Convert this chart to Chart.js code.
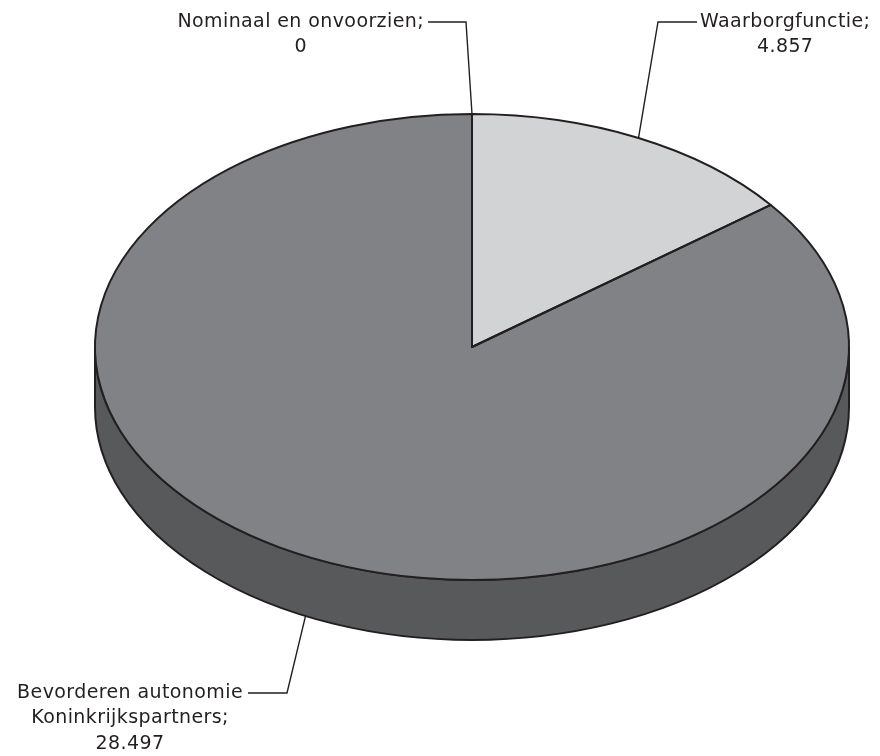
<!DOCTYPE html>
<html lang="nl">
<head>
<meta charset="UTF-8">
<title>Verdeling uitgaven</title>
<script src="https://cdn.jsdelivr.net/npm/chart.js"></script>
<style>
  html, body { margin: 0; padding: 0; background: #ffffff; }
  #wrap { width: 880px; height: 756px; }
</style>
</head>
<body>
<div id="wrap"><canvas id="pie" width="880" height="756"></canvas></div>
<script>
  // data
  const labels = ["Waarborgfunctie", "Bevorderen autonomie Koninkrijkspartners", "Nominaal en onvoorzien"];
  const values = [4.857, 28.497, 0];
  const valueText = ["4.857", "28.497", "0"];

  const topColors = ["#d1d3d4", "#808285", "#808285"];
  const sideColors = ["#a7a9ac", "#58595b", "#58595b"];
  const lineColor = "#231f20";

  // label layout: text lines, where the first line touches the leader line, elbow of leader line
  const labelLayout = [
    { lines: ["Waarborgfunctie;", "4.857"], side: "right", x: 700, y: 22, lineStart: [697, 22], elbow: [658, 22] },
    { lines: ["Bevorderen autonomie", "Koninkrijkspartners;", "28.497"], side: "left", x: 243, y: 693, lineStart: [248, 693], elbow: [287, 693] },
    { lines: ["Nominaal en onvoorzien;", "0"], side: "left", x: 424, y: 22, lineStart: [428, 22], elbow: [466, 22] }
  ];

  const centerY = 347;   // screen y of ellipse centre
  const radiusY = 233;   // vertical half axis
  const depth = 60;      // thickness of the pie

  function geom(chart) {
    const arc = chart.getDatasetMeta(0).data[0];
    return { cx: arc.x, cy: arc.y, rx: arc.outerRadius, ry: radiusY };
  }

  const pie3d = {
    id: "pie3d",
    beforeDatasetsDraw(chart) {
      const ctx = chart.ctx;
      const g = geom(chart);
      const arcs = chart.getDatasetMeta(0).data;
      // side walls (front half only)
      ctx.save();
      ctx.lineWidth = 2;
      ctx.strokeStyle = lineColor;
      arcs.forEach((a, i) => {
        const a1 = Math.max(a.startAngle, 0);
        const a2 = Math.min(a.endAngle, Math.PI);
        if (a2 <= a1) return;
        ctx.beginPath();
        ctx.ellipse(g.cx, centerY, g.rx, g.ry, 0, a1, a2);
        ctx.ellipse(g.cx, centerY + depth, g.rx, g.ry, 0, a2, a1, true);
        ctx.closePath();
        ctx.fillStyle = sideColors[i];
        ctx.fill();
        ctx.stroke();
      });
      ctx.restore();
      // squash the circle into the top ellipse
      ctx.save();
      ctx.translate(0, centerY);
      ctx.scale(1, g.ry / g.rx);
      ctx.translate(0, -g.cy);
    },
    afterDatasetsDraw(chart) {
      const ctx = chart.ctx;
      ctx.restore();
      const g = geom(chart);
      const arcs = chart.getDatasetMeta(0).data;
      ctx.save();
      ctx.lineWidth = 2;
      ctx.lineJoin = "round";
      ctx.strokeStyle = lineColor;
      arcs.forEach((a) => {
        ctx.beginPath();
        ctx.moveTo(g.cx, centerY);
        ctx.lineTo(g.cx + g.rx * Math.cos(a.startAngle), centerY + g.ry * Math.sin(a.startAngle));
        ctx.ellipse(g.cx, centerY, g.rx, g.ry, 0, a.startAngle, a.endAngle);
        ctx.closePath();
        ctx.stroke();
      });
      ctx.restore();
    },
    afterDraw(chart) {
      const ctx = chart.ctx;
      const g = geom(chart);
      const arcs = chart.getDatasetMeta(0).data;
      ctx.save();
      ctx.font = "19px 'DejaVu Sans', sans-serif";
      ctx.letterSpacing = "0.4px";
      ctx.fillStyle = lineColor;
      ctx.textBaseline = "middle";
      ctx.textAlign = "center";
      labelLayout.forEach((l, i) => {
        const a = arcs[i];
        const m = (a.startAngle + a.endAngle) / 2;
        let ax = g.cx + g.rx * Math.cos(m);
        let ay = centerY + g.ry * Math.sin(m);
        if (Math.sin(m) > 0) ay += depth;
        ctx.strokeStyle = lineColor;
        ctx.lineWidth = 1.4;
        ctx.beginPath();
        ctx.moveTo(l.lineStart[0], l.lineStart[1]);
        ctx.lineTo(l.elbow[0], l.elbow[1]);
        ctx.lineTo(ax, ay);
        ctx.stroke();
        const w = ctx.measureText(l.lines[0]).width;
        const mid = l.side === "right" ? l.x + w / 2 : l.x - w / 2;
        l.lines.forEach((t, j) => ctx.fillText(t, mid, l.y + j * 25.5));
      });
      ctx.restore();
    }
  };

  new Chart(document.getElementById("pie"), {
    type: "pie",
    data: {
      labels: labels,
      datasets: [{
        data: values,
        backgroundColor: topColors,
        borderWidth: 0
      }]
    },
    options: {
      responsive: false,
      animation: false,
      layout: { padding: { left: 95, right: 31, top: 1, bottom: 1 } },
      plugins: {
        legend: { display: false },
        tooltip: { enabled: false }
      }
    },
    plugins: [pie3d]
  });
</script>
</body>
</html>
